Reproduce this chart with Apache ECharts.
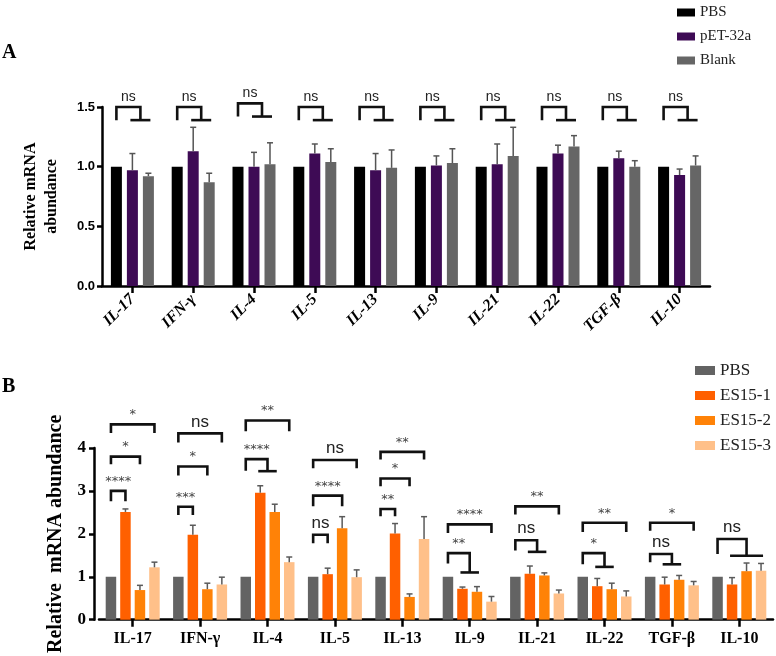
<!doctype html>
<html lang="en">
<head>
<meta charset="utf-8" />
<title>Relative mRNA abundance</title>
<script src="https://cdn.jsdelivr.net/npm/echarts@6/dist/echarts.min.js"></script>
<style>
    html, body { margin: 0; padding: 0; background: #fff; }
    #chart { width: 776px; height: 656px; }
</style>
</head>
<body>
<div id="chart"></div>
<script type="text/javascript">
    // categories shared by both panels
    let cytokines = ['IL-17', 'IFN-γ', 'IL-4', 'IL-5', 'IL-13', 'IL-9', 'IL-21', 'IL-22', 'TGF-β', 'IL-10'];

    // panel A: PBS / pET-32a / Blank (mean and top of error bar)
    let groupsA = ['PBS', 'pET-32a', 'Blank'];
    let pbsA = [1, 1, 1, 1, 1, 1, 1, 1, 1, 1];
    let pet32a = [0.97, 1.13, 1.00, 1.11, 0.97, 1.01, 1.02, 1.11, 1.07, 0.93];
    let pet32aTop = [1.11, 1.33, 1.12, 1.19, 1.11, 1.09, 1.19, 1.18, 1.13, 0.98];
    let blank = [0.92, 0.87, 1.02, 1.04, 0.99, 1.03, 1.09, 1.17, 1.00, 1.01];
    let blankTop = [0.945, 0.945, 1.20, 1.15, 1.14, 1.15, 1.33, 1.26, 1.05, 1.09];

    // panel B: PBS / ES15-1 / ES15-2 / ES15-3
    let groupsB = ['PBS (B)', 'ES15-1', 'ES15-2', 'ES15-3'];
    let pbsB = [1, 1, 1, 1, 1, 1, 1, 1, 1, 1];
    let es1 = [2.51, 1.98, 2.96, 1.06, 2.01, 0.72, 1.07, 0.78, 0.82, 0.82];
    let es1Top = [2.58, 2.20, 3.12, 1.20, 2.24, 0.76, 1.25, 0.96, 0.99, 0.98];
    let es2 = [0.69, 0.71, 2.51, 2.13, 0.53, 0.65, 1.03, 0.71, 0.93, 1.13];
    let es2Top = [0.80, 0.85, 2.69, 2.40, 0.60, 0.77, 1.09, 0.85, 1.03, 1.32];
    let es3 = [1.22, 0.82, 1.34, 0.99, 1.88, 0.42, 0.61, 0.54, 0.80, 1.14];
    let es3Top = [1.34, 0.99, 1.46, 1.16, 2.40, 0.54, 0.69, 0.67, 0.89, 1.31];

    // significance brackets: [cytokine, from bar, to bar first, to bar last, top, leg end, group line, label]
    let bracketsA = [
        ['IL-17', 0, 1, 2, 1.50, 1.39, 1.39, 'ns'],
        ['IFN-γ', 0, 1, 2, 1.50, 1.39, 1.39, 'ns'],
        ['IL-4', 0, 1, 2, 1.53, 1.42, 1.42, 'ns'],
        ['IL-5', 0, 1, 2, 1.50, 1.39, 1.39, 'ns'],
        ['IL-13', 0, 1, 2, 1.50, 1.39, 1.39, 'ns'],
        ['IL-9', 0, 1, 2, 1.50, 1.39, 1.39, 'ns'],
        ['IL-21', 0, 1, 2, 1.50, 1.39, 1.39, 'ns'],
        ['IL-22', 0, 1, 2, 1.50, 1.39, 1.39, 'ns'],
        ['TGF-β', 0, 1, 2, 1.50, 1.39, 1.39, 'ns'],
        ['IL-10', 0, 1, 2, 1.50, 1.39, 1.39, 'ns']
    ];
    let bracketsB = [
        ['IL-17', 0, 1, 1, 3.00, 2.76, 2.76, '****'],
        ['IL-17', 0, 2, 2, 3.80, 3.62, 3.62, '*'],
        ['IL-17', 0, 3, 3, 4.55, 4.35, 4.35, '*'],
        ['IFN-γ', 0, 1, 1, 2.63, 2.44, 2.44, '***'],
        ['IFN-γ', 0, 2, 2, 3.57, 3.36, 3.36, '*'],
        ['IFN-γ', 0, 3, 3, 4.34, 4.13, 4.13, 'ns'],
        ['IL-4', 0, 1, 2, 3.74, 3.47, 3.46, '****'],
        ['IL-4', 0, 3, 3, 4.64, 4.39, 4.39, '**'],
        ['IL-5', 0, 1, 1, 1.98, 1.78, 1.78, 'ns'],
        ['IL-5', 0, 2, 2, 2.89, 2.64, 2.64, '****'],
        ['IL-5', 0, 3, 3, 3.72, 3.53, 3.53, 'ns'],
        ['IL-13', 0, 1, 1, 2.58, 2.41, 2.41, '**'],
        ['IL-13', 0, 2, 2, 3.29, 3.11, 3.11, '*'],
        ['IL-13', 0, 3, 3, 3.91, 3.73, 3.73, '**'],
        ['IL-9', 0, 1, 2, 1.55, 1.31, 1.10, '**'],
        ['IL-9', 0, 3, 3, 2.22, 2.02, 2.02, '****'],
        ['IL-21', 0, 1, 2, 1.85, 1.61, 1.58, 'ns'],
        ['IL-21', 0, 3, 3, 2.64, 2.45, 2.45, '**'],
        ['IL-22', 0, 1, 2, 1.55, 1.29, 1.23, '*'],
        ['IL-22', 0, 3, 3, 2.26, 2.04, 2.04, '**'],
        ['TGF-β', 0, 1, 2, 1.53, 1.34, 1.29, 'ns'],
        ['TGF-β', 0, 3, 3, 2.26, 2.07, 2.07, '*'],
        ['IL-10', 0, 1, 3, 1.88, 1.53, 1.49, 'ns']
    ];

    let serif = '"Liberation Serif", "Times New Roman", serif';
    let sans = '"Liberation Sans", Arial, sans-serif';

    // bar geometry (px) for each panel
    let barA = { w: 11, g: 5, n: 3 };
    let barB = { w: 10.5, g: 4, n: 4 };

    let barOffset = function (geo, k) {
        return (k - (geo.n - 1) / 2) * (geo.w + geo.g);
    };

    let barSeries = function (name, values, color, geo, axis) {
        return {
            name: name,
            type: 'bar',
            xAxisIndex: axis,
            yAxisIndex: axis,
            data: values,
            barWidth: geo.w,
            barGap: (geo.g / geo.w * 100) + '%',
            itemStyle: { color: color },
            silent: true,
            z: 2
        };
    };

    let errorSeries = function (values, tops, k, geo, axis, color) {
        return {
            type: 'custom',
            xAxisIndex: axis,
            yAxisIndex: axis,
            silent: true,
            z: 3,
            data: values.map((v, i) => [i, v, tops[i]]),
            renderItem: function (params, api) {
                let p0 = api.coord([api.value(0), api.value(1)]);
                let p1 = api.coord([api.value(0), api.value(2)]);
                let x = p0[0] + barOffset(geo, k);
                let s = { stroke: color, lineWidth: 1.5 };

                return {
                    type: 'group',
                    children: [
                        { type: 'line', shape: { x1: x, y1: p0[1], x2: x, y2: p1[1] }, style: s },
                        { type: 'line', shape: { x1: x - 3, y1: p1[1], x2: x + 3, y2: p1[1] }, style: s }
                    ]
                };
            }
        };
    };

    let bracketSeries = function (list, geo, axis, nsSize, starSize) {
        return {
            type: 'custom',
            xAxisIndex: axis,
            yAxisIndex: axis,
            silent: true,
            z: 4,
            data: list.map(b => [cytokines.indexOf(b[0]), b[4]]),
            renderItem: function (params, api) {
                let b = list[params.dataIndex];
                let c = api.value(0);
                let top = api.coord([c, b[4]]);
                let yLeg = api.coord([c, b[5]])[1];
                let yGrp = api.coord([c, b[6]])[1];
                let xa = top[0] + barOffset(geo, b[1]);
                let xb1 = top[0] + barOffset(geo, b[2]);
                let xb2 = top[0] + barOffset(geo, b[3]);
                let xr = (xb1 + xb2) / 2;
                let grouped = b[2] != b[3];
                let line = { stroke: '#111', lineWidth: 2.6, fill: null, lineJoin: 'miter' };
                let isStar = b[7].indexOf('*') >= 0;
                let children = [{
                    type: 'polyline',
                    shape: { points: [[xa, yLeg], [xa, top[1]], [xr, top[1]], [xr, grouped ? yGrp : yLeg]] },
                    style: line
                }];

                if (grouped) {
                    children.push({
                        type: 'line',
                        shape: { x1: xb1 - 2, y1: yGrp, x2: xb2 + 2, y2: yGrp },
                        style: line
                    });
                }
                children.push({
                    type: 'text',
                    style: {
                        text: b[7],
                        x: (xa + xr) / 2,
                        y: top[1] - 3,
                        align: 'center',
                        verticalAlign: 'bottom',
                        fontFamily: isStar ? '"DejaVu Sans", sans-serif' : sans,
                        fontSize: isStar ? starSize : nsSize,
                        fill: isStar ? '#444' : '#222'
                    }
                });

                return { type: 'group', children: children };
            }
        };
    };

    let axisLine = { show: true, lineStyle: { color: '#000', width: 2.5 } };
    let axisTick = { show: true, length: 5, lineStyle: { color: '#000', width: 2.5 } };

    let option = {
        animation: false,
        backgroundColor: '#fff',
        graphic: [
            { type: 'text', left: 2, top: 43, style: { text: 'A', fontFamily: serif, fontWeight: 'bold', fontSize: 20, fill: '#000' } },
            { type: 'text', left: 2, top: 377, style: { text: 'B', fontFamily: serif, fontWeight: 'bold', fontSize: 20, fill: '#000' } }
        ],
        legend: [
            {
                data: groupsA,
                orient: 'vertical',
                left: 672,
                top: 0,
                icon: 'rect',
                itemWidth: 18,
                itemHeight: 8,
                itemGap: 9,
                selectedMode: false,
                textStyle: { fontFamily: serif, fontSize: 15, color: '#222' }
            },
            {
                data: groupsB,
                orient: 'vertical',
                left: 690,
                top: 357,
                icon: 'rect',
                itemWidth: 20,
                itemHeight: 9,
                itemGap: 8,
                selectedMode: false,
                formatter: name => name.replace(' (B)', ''),
                textStyle: { fontFamily: serif, fontSize: 17, color: '#222' }
            }
        ],
        grid: [
            { left: 102, top: 107, width: 608, height: 179 },
            { left: 99, top: 448, width: 674, height: 181 }
        ],
        xAxis: [
            {
                gridIndex: 0,
                type: 'category',
                data: cytokines,
                axisLine: axisLine,
                axisTick: { show: true, alignWithLabel: true, length: 7, lineStyle: { color: '#000', width: 2.5 } },
                axisLabel: {
                    interval: 0, rotate: 45, margin: 11, color: '#000',
                    fontFamily: serif, fontWeight: 'bold', fontStyle: 'italic', fontSize: 16
                }
            },
            {
                gridIndex: 1,
                type: 'category',
                data: cytokines,
                axisLine: axisLine,
                axisTick: { show: true, alignWithLabel: true, length: 7, lineStyle: { color: '#000', width: 2.5 } },
                axisLabel: {
                    interval: 0, margin: 11, color: '#000',
                    fontFamily: serif, fontWeight: 'bold', fontSize: 16
                }
            }
        ],
        yAxis: [
            {
                gridIndex: 0,
                type: 'value',
                min: 0,
                max: 1.5,
                interval: 0.5,
                name: 'Relative mRNA\nabundance',
                nameLocation: 'middle',
                nameGap: 40,
                nameTextStyle: { fontFamily: serif, fontWeight: 'bold', fontSize: 16, lineHeight: 21, color: '#000' },
                axisLine: axisLine,
                axisTick: axisTick,
                splitLine: { show: false },
                axisLabel: {
                    formatter: v => v.toFixed(1), margin: 7, color: '#000',
                    fontFamily: sans, fontWeight: 'bold', fontSize: 13
                }
            },
            {
                gridIndex: 1,
                type: 'value',
                min: 0,
                max: 4,
                interval: 1,
                offset: 5,
                name: 'Relative  mRNA abundance',
                nameLocation: 'middle',
                nameGap: 28,
                nameTextStyle: { fontFamily: serif, fontWeight: 'bold', fontSize: 20, color: '#000' },
                axisLine: axisLine,
                axisTick: axisTick,
                splitLine: { show: false },
                axisLabel: {
                    margin: 8, color: '#000',
                    fontFamily: serif, fontWeight: 'bold', fontSize: 17
                }
            }
        ],
        series: [
            barSeries(groupsA[0], pbsA, '#000000', barA, 0),
            barSeries(groupsA[1], pet32a, '#3e0b55', barA, 0),
            barSeries(groupsA[2], blank, '#666666', barA, 0),
            errorSeries(pet32a, pet32aTop, 1, barA, 0, '#555'),
            errorSeries(blank, blankTop, 2, barA, 0, '#555'),
            bracketSeries(bracketsA, barA, 0, 14, 13),

            barSeries(groupsB[0], pbsB, '#636363', barB, 1),
            barSeries(groupsB[1], es1, '#ff6000', barB, 1),
            barSeries(groupsB[2], es2, '#ff8207', barB, 1),
            barSeries(groupsB[3], es3, '#ffc089', barB, 1),
            errorSeries(es1, es1Top, 1, barB, 1, '#5a5a5a'),
            errorSeries(es2, es2Top, 2, barB, 1, '#5a5a5a'),
            errorSeries(es3, es3Top, 3, barB, 1, '#5a5a5a'),
            bracketSeries(bracketsB, barB, 1, 17, 13)
        ]
    };

    let myChart = echarts.init(document.getElementById('chart'));

    myChart.setOption(option);
</script>
</body>
</html>
